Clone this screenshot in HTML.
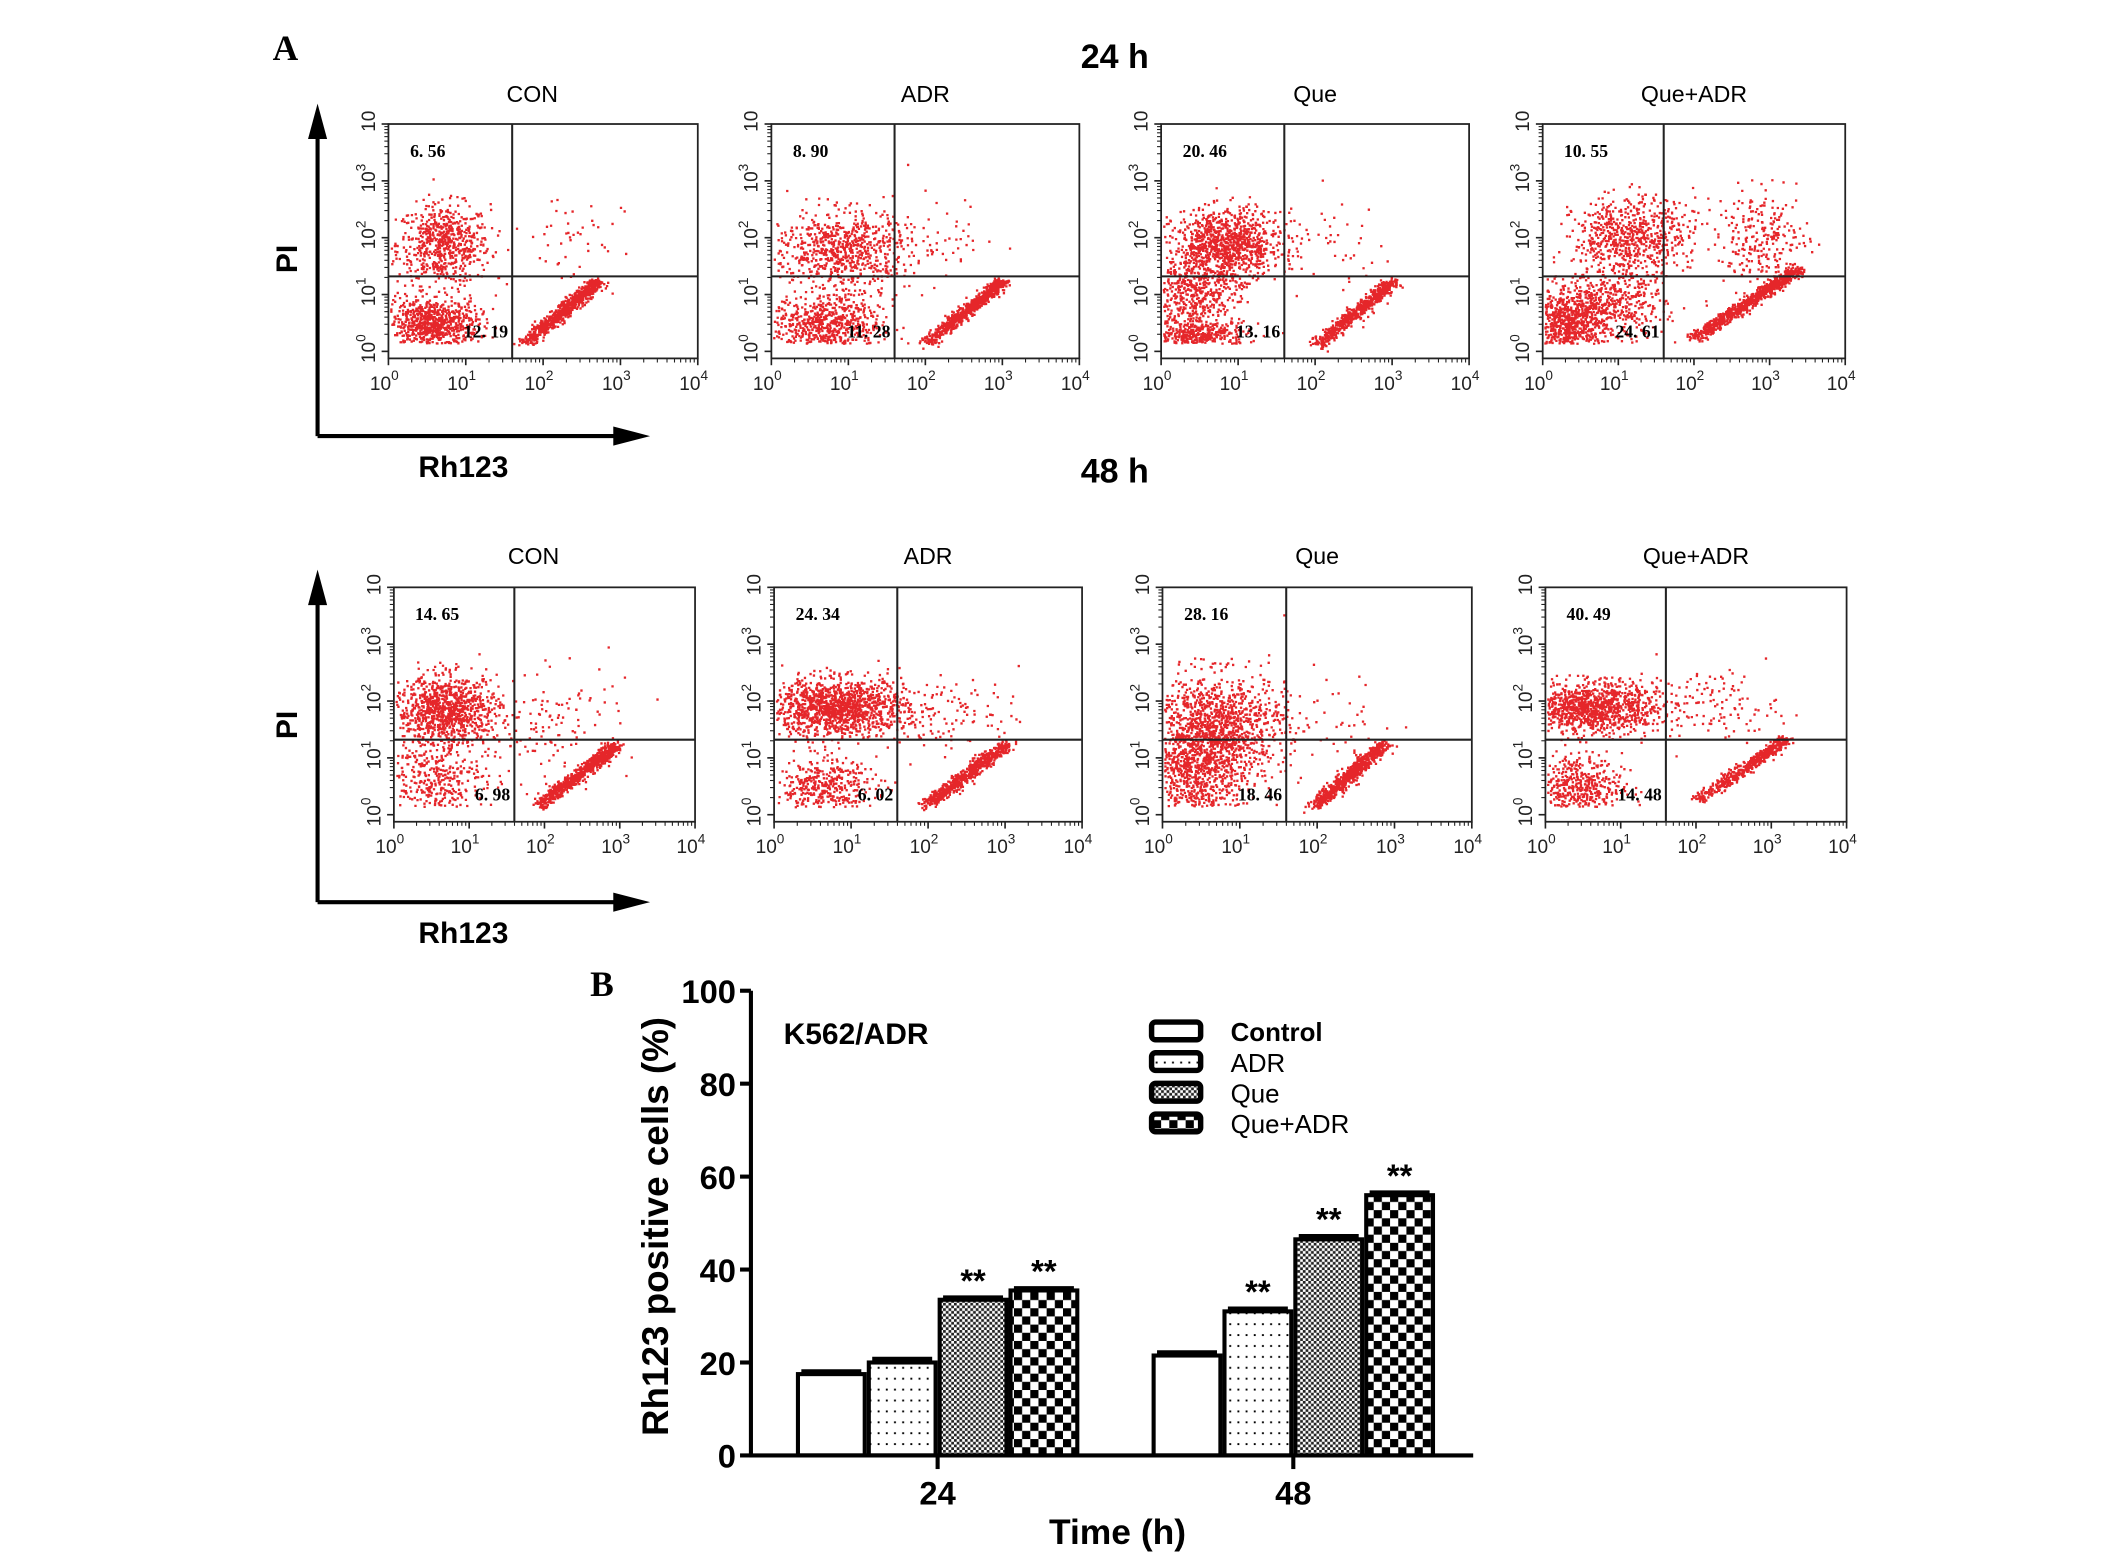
<!DOCTYPE html>
<html><head><meta charset="utf-8">
<style>
html,body{margin:0;padding:0;background:#fff;}
svg{display:block;}
text{font-family:"Liberation Sans",Arial,sans-serif;}
</style></head>
<body>
<svg id="fig" width="2126" height="1559" viewBox="0 0 1560 1144" xmlns="http://www.w3.org/2000/svg">
<defs>
<pattern id="pADR" width="6" height="8" patternUnits="userSpaceOnUse"><rect width="6" height="8" fill="#fff"/><rect x="2" y="3" width="1.4" height="1.4" fill="#000"/></pattern>
<pattern id="pQue" width="4" height="4" patternUnits="userSpaceOnUse"><rect width="4" height="4" fill="#fff"/><rect x="0" y="0" width="2" height="2" fill="#222"/><rect x="2" y="2" width="2" height="2" fill="#222"/></pattern>
<pattern id="pQA" width="12" height="12" patternUnits="userSpaceOnUse"><rect width="12" height="12" fill="#fff"/><rect x="0" y="0" width="6" height="6" fill="#000"/><rect x="6" y="6" width="6" height="6" fill="#000"/></pattern>
</defs>
<text x="200" y="44" font-weight="bold" font-size="26" style="font-family:'Liberation Serif',serif">A</text>
<text x="433" y="731" font-weight="bold" font-size="26" style="font-family:'Liberation Serif',serif">B</text>
<text x="818" y="50" text-anchor="middle" font-weight="bold" font-size="25">24 h</text>
<text x="818" y="354" text-anchor="middle" font-weight="bold" font-size="25">48 h</text>
<g id="flow"></g>
<g id="bar"></g>
</svg>
<script>
const NS='http://www.w3.org/2000/svg';
function mk(parent,tag,attrs,txt){const e=document.createElementNS(NS,tag);for(const k in attrs)e.setAttribute(k,attrs[k]);if(txt!==undefined)e.textContent=txt;parent.appendChild(e);return e;}

// ---------- Flow cytometry data ----------
const flowTitles=['CON','ADR','Que','Que+ADR'];
const flowUL24=['6.56','8.90','20.46','10.55'];
const flowLL24=['12.19','11.28','13.16','24.61'];
const flowUL48=['14.65','24.34','28.16','40.49'];
const flowLL48=['6.98','6.02','18.46','14.48'];
// clusters: [cx, cy, sx, sy, n] in log decades
const clusters24=[
 [[0.7,1.9,0.3,0.35,650],[0.55,0.5,0.3,0.22,800],[2.3,2.0,0.35,0.45,45]],
 [[0.9,1.8,0.45,0.35,750],[0.7,0.5,0.35,0.25,650],[2.3,2.0,0.35,0.4,35]],
 [[0.85,1.9,0.35,0.3,1000],[0.4,1.0,0.3,0.4,550],[0.5,0.3,0.3,0.12,350],[2.2,1.9,0.4,0.4,40]],
 [[1.1,2.0,0.35,0.35,600],[0.3,0.5,0.25,0.3,700],[0.9,0.8,0.35,0.3,450],[2.9,2.0,0.3,0.4,250],[1.6,2.2,0.3,0.3,90]]
];
const clusters48=[
 [[0.7,1.85,0.35,0.3,1000],[0.5,0.6,0.35,0.4,420],[2.1,1.6,0.5,0.5,120]],
 [[0.8,1.9,0.45,0.25,1300],[0.6,0.5,0.35,0.25,420],[2.2,1.8,0.5,0.35,120]],
 [[0.7,1.6,0.45,0.45,1100],[0.4,0.8,0.35,0.45,850],[2.3,1.6,0.4,0.5,35]],
 [[0.6,1.9,0.45,0.22,1150],[0.4,0.5,0.3,0.3,500],[2.2,1.95,0.45,0.3,120]]
];
// diagonal streak: [x0,y0,x1,y1,n]
const diag24=[[1.75,0.2,2.7,1.3,750],[2.0,0.2,3.0,1.3,700],[2.0,0.15,3.0,1.3,650],[2.0,0.3,3.35,1.5,850]];
const diag48=[[1.9,0.2,2.95,1.3,750],[1.95,0.2,3.0,1.3,650],[1.95,0.2,2.85,1.3,750],[2.0,0.3,3.2,1.4,500]];

const rowBoxes=[
 {y:91,h:172,xs:[285,566,852,1132],w:[227,226,226,222],ty:75,ul:flowUL24,ll:flowLL24,cl:clusters24,dg:diag24},
 {y:431,h:172,xs:[289,568,853,1134],w:[221,226,227,221],ty:414,ul:flowUL48,ll:flowLL48,cl:clusters48,dg:diag48}
];
let seed=12345;function rnd(){seed=(seed*1103515245+12345)%2147483648;return seed/2147483648;}
function gauss(){let u=rnd()||1e-6,v=rnd();return Math.sqrt(-2*Math.log(u))*Math.cos(2*Math.PI*v);}
const flow=document.getElementById('flow');
rowBoxes.forEach((row,ri)=>{
  const ax=mk(flow,'g',{});
  
  
  const top=ri?418:76, base=ri?662:320;
  mk(ax,'line',{x1:233,y1:top+20,x2:233,y2:base,stroke:'#000','stroke-width':3});
  mk(ax,'polygon',{points:`226,${top+26} 233,${top} 240,${top+26}`,fill:'#000'});
  mk(ax,'line',{x1:233,y1:base,x2:455,y2:base,stroke:'#000','stroke-width':3});
  mk(ax,'polygon',{points:`450,${base-7} 477,${base} 450,${base+7}`,fill:'#000'});
  const pi=mk(ax,'text',{x:0,y:0,'font-size':22,'font-weight':'bold','text-anchor':'middle',transform:`translate(218,${(top+base)/2-8}) rotate(-90)`},'PI');
  
  const rh=mk(ax,'text',{x:340,y:base+30,'font-size':22,'font-weight':'bold','text-anchor':'middle'},'Rh123');
  
  row.xs.forEach((x0,i)=>{
    const w=row.w[i],h=row.h,y0=row.y;
    const g=mk(flow,'g',{});
    
    
    const X=d=>x0+d/4*w, Y=d=>y0+h-(d/4)*h*0.97-h*0.03;
    const t=mk(g,'text',{x:x0+w/2+(i==0?-8:0),y:row.ty,'font-size':17,'text-anchor':'middle'},flowTitles[i]);
    
    let pts='';
    row.cl[i].forEach(c=>{for(let k=0;k<c[4];k++){const px=c[0]+gauss()*c[2],py=c[1]+gauss()*c[3];if(px<0.02||px>3.95||py<0.15||py>3.9)continue;pts+=`M${X(px).toFixed(1)},${Y(py).toFixed(1)}h1.7v1.7h-1.7z`;}});
    const d=row.dg[i];
    for(let k=0;k<d[4];k++){const f=Math.pow(rnd(),0.8);const px=d[0]+(d[2]-d[0])*f+gauss()*0.06,py=d[1]+(d[3]-d[1])*f-Math.abs(gauss())*0.06+gauss()*0.02;pts+=`M${X(px).toFixed(1)},${Y(py).toFixed(1)}h1.7v1.7h-1.7z`;}
    const pp=mk(g,'path',{d:pts,fill:'#e5262a'});
    
    mk(g,'rect',{x:x0,y:y0,width:w,height:h,fill:'none',stroke:'#222','stroke-width':1.3});
    mk(g,'line',{x1:X(1.6),y1:y0,x2:X(1.6),y2:y0+h,stroke:'#222','stroke-width':1.5});
    mk(g,'line',{x1:x0,y1:Y(1.32),x2:x0+w,y2:Y(1.32),stroke:'#222','stroke-width':1.5});
    for(let dd=0;dd<=4;dd++){
      mk(g,'line',{x1:X(dd),y1:y0+h,x2:X(dd),y2:y0+h+5,stroke:'#222','stroke-width':1.2});
      mk(g,'line',{x1:x0,y1:Y(dd),x2:x0-5,y2:Y(dd),stroke:'#222','stroke-width':1.2});
      if(dd<4)for(let m=2;m<10;m++){const o=Math.log10(m);mk(g,'line',{x1:X(dd+o),y1:y0+h,x2:X(dd+o),y2:y0+h+3,stroke:'#222','stroke-width':0.8});mk(g,'line',{x1:x0,y1:Y(dd+o),x2:x0-3,y2:Y(dd+o),stroke:'#222','stroke-width':0.8});}
      const tl=mk(g,'text',{x:X(dd)-3,y:y0+h+23,'font-size':14,'text-anchor':'middle',fill:'#222'},'10');
      mk(tl,'tspan',{dy:-7,'font-size':10},String(dd));
      const yl=mk(g,'text',{x:0,y:0,'font-size':14,'text-anchor':'middle',fill:'#222',transform:`translate(${x0-10},${Y(dd)-2}) rotate(-90)`},'10');
      if(dd<4)mk(yl,'tspan',{dy:-7,'font-size':10},String(dd));
    }
    const u=mk(g,'text',{x:x0+w*0.07,y:y0+h*0.14,'font-size':13,'font-weight':'bold',style:"font-family:'Liberation Serif',serif"},row.ul[i].replace('.','. '));
    
    const l=mk(g,'text',{x:X(1.6)-3,y:y0+h*0.91,'font-size':13,'font-weight':'bold','text-anchor':'end',style:"font-family:'Liberation Serif',serif"},row.ll[i].replace('.','. '));
    
  });
});
</script>
<script>
// ---------- Bar chart ----------
const groups=['24','48'];
const seriesNames=['Control','ADR','Que','Que+ADR'];
const values24=[17.5,20,33.5,35.5];
const values48=[21.5,31,46.5,56];
const errors24=[0.6,0.8,0.5,0.5];
const errors48=[0.7,0.6,0.7,0.6];
const stars24=['','','**','**'];
const stars48=['','**','**','**'];
const yTicks=[0,20,40,60,80,100];
(function(){
const NS='http://www.w3.org/2000/svg';
function mk(p,t,a,txt){const e=document.createElementNS(NS,t);for(const k in a)e.setAttribute(k,a[k]);if(txt!==undefined)e.textContent=txt;p.appendChild(e);return e;}
const g=document.getElementById('bar');
const x0=551,x1=1081,yb=1068,yt=727;
const yS=v=>yb-(v/100)*(yb-yt);
const groupCenter=[688,949];
const bw=52;
const fills=['#fff','url(#pADR)','url(#pQue)','url(#pQA)'];
const vals=[values24,values48],errs=[errors24,errors48],stars=[stars24,stars48];
groups.forEach((gName,gi)=>{
  vals[gi].forEach((v,si)=>{
    const bx=groupCenter[gi]-2*bw+si*bw;
    const r=mk(g,'rect',{x:bx+1.5,y:yS(v),width:bw-3,height:yb-yS(v),fill:fills[si],stroke:'#000','stroke-width':3});
    
    
    const e=errs[gi][si];
    mk(g,'line',{x1:bx+4,y1:yS(v+e),x2:bx+bw-4,y2:yS(v+e),stroke:'#000','stroke-width':3});
    if(stars[gi][si]){const s=mk(g,'text',{x:bx+bw/2,y:yS(v+e)-4,'font-size':24,'font-weight':'bold','text-anchor':'middle'},stars[gi][si]);
      }
  });
  mk(g,'line',{x1:groupCenter[gi],y1:yb,x2:groupCenter[gi],y2:yb+10,stroke:'#000','stroke-width':3});
  const t=mk(g,'text',{x:groupCenter[gi],y:yb+36,'font-size':24,'font-weight':'bold','text-anchor':'middle'},gName);
  
});
mk(g,'line',{x1:x0,y1:yt,x2:x0,y2:yb+1.5,stroke:'#000','stroke-width':3});
mk(g,'line',{x1:x0,y1:yb,x2:x1,y2:yb,stroke:'#000','stroke-width':3});
yTicks.forEach(v=>{
  mk(g,'line',{x1:x0-8,y1:yS(v),x2:x0,y2:yS(v),stroke:'#000','stroke-width':3});
  const t=mk(g,'text',{x:x0-11,y:yS(v)+9,'font-size':24,'font-weight':'bold','text-anchor':'end'},String(v));
  
});
const yt2=mk(g,'text',{x:0,y:0,'font-size':27,'font-weight':'bold','text-anchor':'middle',transform:'translate(490,900) rotate(-90)'},'Rh123 positive cells (%)');

const xt=mk(g,'text',{x:820,y:1133,'font-size':26,'font-weight':'bold','text-anchor':'middle'},'Time (h)');

const k=mk(g,'text',{x:575,y:766,'font-size':22,'font-weight':'bold'},'K562/ADR');

seriesNames.forEach((n,si)=>{
  const ly=757+si*22.5;
  const le=mk(g,'g',{});
  
  
  mk(le,'rect',{x:845,y:ly-7,width:36,height:13,rx:3,fill:fills[si],stroke:'#000','stroke-width':4});
  mk(le,'text',{x:903,y:ly+7,'font-size':19,'font-weight':si==0?'bold':'normal'},n);
});
})();
</script>
</body></html>
